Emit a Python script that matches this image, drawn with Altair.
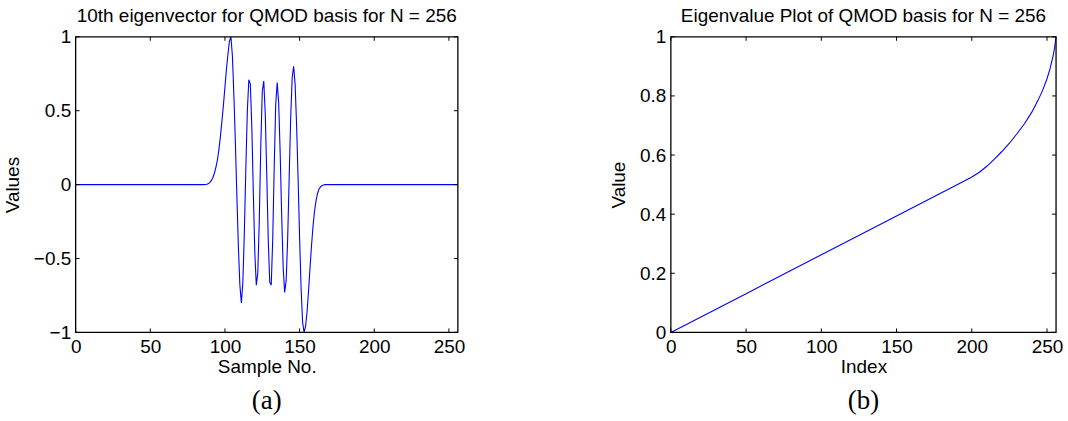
import altair as alt
import pandas as pd

# ---------------- Panel (a): 10th eigenvector ----------------
sample_no = [0, 86, 87, 88, 89, 90, 91, 92, 93, 94, 95, 96, 97, 98, 99, 100,
             101, 102, 103, 104, 105, 106, 107, 108, 109, 110, 111, 112, 113,
             114, 115, 116, 117, 118, 119, 120, 121, 122, 123, 124, 125, 126,
             127, 128, 129, 130, 131, 132, 133, 134, 135, 136, 137, 138, 139,
             140, 141, 142, 143, 144, 145, 146, 147, 148, 149, 150, 151, 152,
             153, 154, 155, 156, 157, 158, 159, 160, 161, 162, 163, 164, 165,
             166, 167, 256]
vec_values = [0.0, 0.0, 0.001, 0.003, 0.007, 0.015, 0.03, 0.05, 0.08, 0.12,
              0.17, 0.24, 0.33, 0.43, 0.54, 0.66, 0.78, 0.88, 0.97, 1.0,
              0.87, 0.60, 0.28, -0.08, -0.42, -0.68, -0.80, -0.66, -0.32,
              0.11, 0.50, 0.71, 0.68, 0.39, -0.05, -0.46, -0.68, -0.60, -0.24,
              0.26, 0.63, 0.70, 0.48, 0.07, -0.37, -0.66, -0.68, -0.37, 0.12,
              0.54, 0.69, 0.55, 0.21, -0.21, -0.56, -0.73, -0.65, -0.37, 0.04,
              0.44, 0.72, 0.80, 0.68, 0.40, 0.04, -0.36, -0.70, -0.93, -1.0,
              -0.96, -0.86, -0.72, -0.56, -0.41, -0.28, -0.18, -0.11, -0.06,
              -0.03, -0.015, -0.006, -0.002, 0.0, 0.0]

# ---------------- Panel (b): eigenvalues ----------------
eig_index = [0, 50, 100, 150, 195, 200, 205, 210, 215, 220, 225, 230, 235,
             240, 244, 247, 250, 252, 254, 255, 256]
eig_values = [0.0, 0.131, 0.2625, 0.394, 0.512, 0.526, 0.542, 0.562, 0.586,
              0.612, 0.640, 0.672, 0.706, 0.746, 0.785, 0.818, 0.858, 0.892,
              0.935, 0.962, 1.0]

x_ticks = [0, 50, 100, 150, 200, 250]
ya_ticks = [-1, -0.5, 0, 0.5, 1]
yb_ticks = [0, 0.2, 0.4, 0.6, 0.8, 1]

FONT = "Liberation Sans"
FS = 19
TICK = 4


def panel(xs_list, ys_list, ydomain, yticks, title, xtitle, ytitle, caption, w, h):
    df = pd.DataFrame({"x": xs_list, "y": ys_list})
    xs = alt.Scale(domain=[0, 256], nice=False, zero=False)
    ys = alt.Scale(domain=ydomain, nice=False, zero=False)
    xaxis = alt.Axis(values=x_ticks, title=xtitle, labelExpr="format(datum.value, 'd')",
                     labelFlush=False, labelPadding=5, titlePadding=1)
    yaxis = alt.Axis(values=yticks, title=ytitle, labelExpr="format(datum.value, '~g')",
                     labelFlush=False, labelPadding=5, titlePadding=11)
    line = alt.Chart(df).mark_line(color="#0000ff", strokeWidth=1.1).encode(
        x=alt.X("x:Q", scale=xs, axis=xaxis),
        y=alt.Y("y:Q", scale=ys, axis=yaxis),
    )
    xt = pd.DataFrame({"x": x_ticks})
    yt = pd.DataFrame({"y": yticks})
    frame_df = pd.DataFrame({"x": [0], "x2": [256], "y": [ydomain[0]], "y2": [ydomain[1]]})
    frame = alt.Chart(frame_df).mark_rect(fill=None, stroke="black", strokeWidth=1.3).encode(
        x=alt.X("x:Q", scale=xs, axis=xaxis), x2="x2:Q",
        y=alt.Y("y:Q", scale=ys, axis=yaxis), y2="y2:Q")
    bottom = alt.Chart(xt).mark_rule(color="black", strokeWidth=1).encode(
        x=alt.X("x:Q", scale=xs, axis=xaxis), y=alt.value(h), y2=alt.value(h - TICK))
    top = alt.Chart(xt).mark_rule(color="black", strokeWidth=1).encode(
        x=alt.X("x:Q", scale=xs, axis=xaxis), y=alt.value(0), y2=alt.value(TICK))
    left = alt.Chart(yt).mark_rule(color="black", strokeWidth=1).encode(
        y=alt.Y("y:Q", scale=ys, axis=yaxis), x=alt.value(0), x2=alt.value(TICK))
    right = alt.Chart(yt).mark_rule(color="black", strokeWidth=1).encode(
        y=alt.Y("y:Q", scale=ys, axis=yaxis), x=alt.value(w), x2=alt.value(w - TICK))
    cap = alt.Chart(pd.DataFrame({"c": [caption]})).mark_text(
        font="Liberation Serif", fontSize=27, baseline="middle", align="center",
        color="black").encode(text="c:N", x=alt.value(w / 2), y=alt.value(h + 69))
    return alt.layer(line, frame, bottom, top, left, right, cap).properties(
        width=w, height=h,
        title=alt.Title(title, font=FONT, fontSize=FS, fontWeight="normal",
                        color="black", offset=1.5, anchor="middle"),
    )


pa = panel(sample_no, vec_values, [-1, 1], ya_ticks,
           "10th eigenvector for QMOD basis for N = 256", "Sample No.", "Values",
           "(a)", 384, 297)
pb = panel(eig_index, eig_values, [0, 1], yb_ticks,
           "Eigenvalue Plot of QMOD basis for N = 256", "Index", "Value",
           "(b)", 387, 297)

chart = alt.hconcat(pa, pb, spacing=145).properties(
    padding={"left": 3, "top": 6, "right": 5, "bottom": 2},
    background="white",
).configure_view(stroke=None).configure_axis(
    domain=False, ticks=False, grid=False,
    labelFont=FONT, labelFontSize=FS, labelColor="black",
    titleFont=FONT, titleFontSize=FS, titleFontWeight="normal", titleColor="black",
)

chart.save("out.html", embed_options={"renderer": "svg", "actions": False})
